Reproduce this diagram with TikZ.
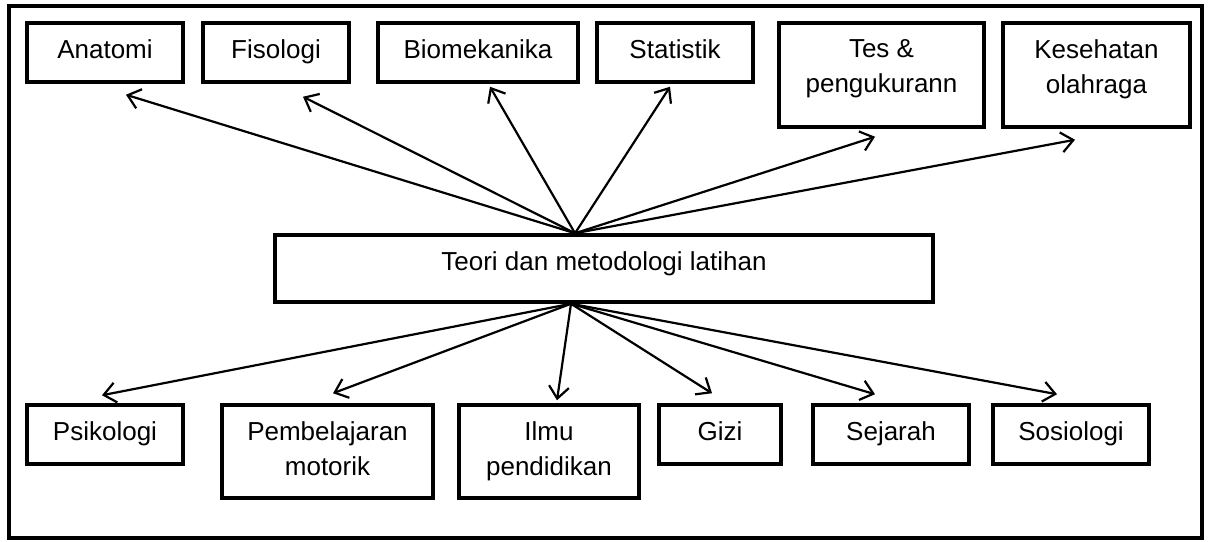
\documentclass[tikz,border=0pt]{standalone}
\usepackage{fontspec}
\setmainfont{Liberation Sans}
\usetikzlibrary{arrows.meta,calc}
\begin{document}
\begin{tikzpicture}[x=1pt,y=-1pt,
  box/.style={draw, line width=3.5pt, inner sep=0pt},
  lbl/.style={anchor=north, inner sep=0pt, align=center, font=\fontsize{26}{35}\selectfont},
  arr/.style={line width=2.2pt, -{Straight Barb[length=12pt,width=20pt]}}]
\useasboundingbox (0,0) rectangle (1209,541);
\draw[line width=3.5pt] (9,6) rectangle (1202,538);
% top row
\node[box, minimum width=156pt, minimum height=59pt] (anat) at (105,52.5) {};
\node[box, minimum width=146pt, minimum height=59pt] (fiso) at (276,52.5) {};
\node[box, minimum width=200pt, minimum height=59pt] (biom) at (478,52.5) {};
\node[box, minimum width=156pt, minimum height=59pt] (stat) at (675,52.5) {};
\node[box, minimum width=205pt, minimum height=104pt] (tes) at (881.5,75) {};
\node[box, minimum width=187pt, minimum height=104pt] (kes) at (1096.5,75) {};
% centre
\node[box, minimum width=658pt, minimum height=67pt] (c) at (604,268.5) {};
% bottom row
\node[box, minimum width=156pt, minimum height=59pt] (psi) at (105,434.5) {};
\node[box, minimum width=211pt, minimum height=93pt] (pem) at (327.5,451.5) {};
\node[box, minimum width=180pt, minimum height=93pt] (ilmu) at (549,451.5) {};
\node[box, minimum width=122pt, minimum height=59pt] (gizi) at (720,434.5) {};
\node[box, minimum width=156pt, minimum height=59pt] (sej) at (891,434.5) {};
\node[box, minimum width=156pt, minimum height=59pt] (sos) at (1071,434.5) {};
% labels
\node[lbl] (t-anat) at ($(anat.north)+(0,18.5)$) {Anatomi};
\node[lbl] (t-fiso) at ($(fiso.north)+(0,18.5)$) {Fisologi};
\node[lbl] (t-biom) at ($(biom.north)+(0,18.5)$) {Biomekanika};
\node[lbl] (t-stat) at ($(stat.north)+(0,18.5)$) {Statistik};
\node[lbl] (t-tes) at ($(tes.north)+(0,18.5)$) {Tes \&\\pengukurann};
\node[lbl] (t-kes) at ($(kes.north)+(0,18.5)$) {Kesehatan\\olahraga};
\node[lbl] (t-c) at ($(c.north)+(0,18.5)$) {Teori dan metodologi latihan};
\node[lbl] (t-psi) at ($(psi.north)+(0,18.5)$) {Psikologi};
\node[lbl] (t-pem) at ($(pem.north)+(0,18.5)$) {Pembelajaran\\motorik};
\node[lbl] (t-ilmu) at ($(ilmu.north)+(0,18.5)$) {Ilmu\\pendidikan};
\node[lbl] (t-gizi) at ($(gizi.north)+(0,18.5)$) {Gizi};
\node[lbl] (t-sej) at ($(sej.north)+(0,18.5)$) {Sejarah};
\node[lbl] (t-sos) at ($(sos.north)+(0,18.5)$) {Sosiologi};
% arrows up
\coordinate (ctop) at ($(c.north)+(-29,0)$);
\draw[arr] (ctop) -- ($(anat.south)+(21,11)$);
\draw[arr] (ctop) -- ($(fiso.south)+(27,13)$);
\draw[arr] (ctop) -- ($(biom.south)+(12,3)$);
\draw[arr] (ctop) -- ($(stat.south)+(-5,3)$);
\draw[arr] (ctop) -- ($(tes.south)+(-6.5,8)$);
\draw[arr] (ctop) -- ($(kes.south)+(-21.5,11)$);
% arrows down
\coordinate (cbot) at ($(c.south)+(-33,0)$);
\draw[arr] (cbot) -- ($(psi.north)+(-3,-8)$);
\draw[arr] (cbot) -- ($(pem.north)+(5.5,-10)$);
\draw[arr] (cbot) -- ($(ilmu.north)+(8,-3)$);
\draw[arr] (cbot) -- ($(gizi.north)+(-8,-10)$);
\draw[arr] (cbot) -- ($(sej.north)+(-16,-9)$);
\draw[arr] (cbot) -- ($(sos.north)+(-14,-9)$);
\end{tikzpicture}
\end{document}
